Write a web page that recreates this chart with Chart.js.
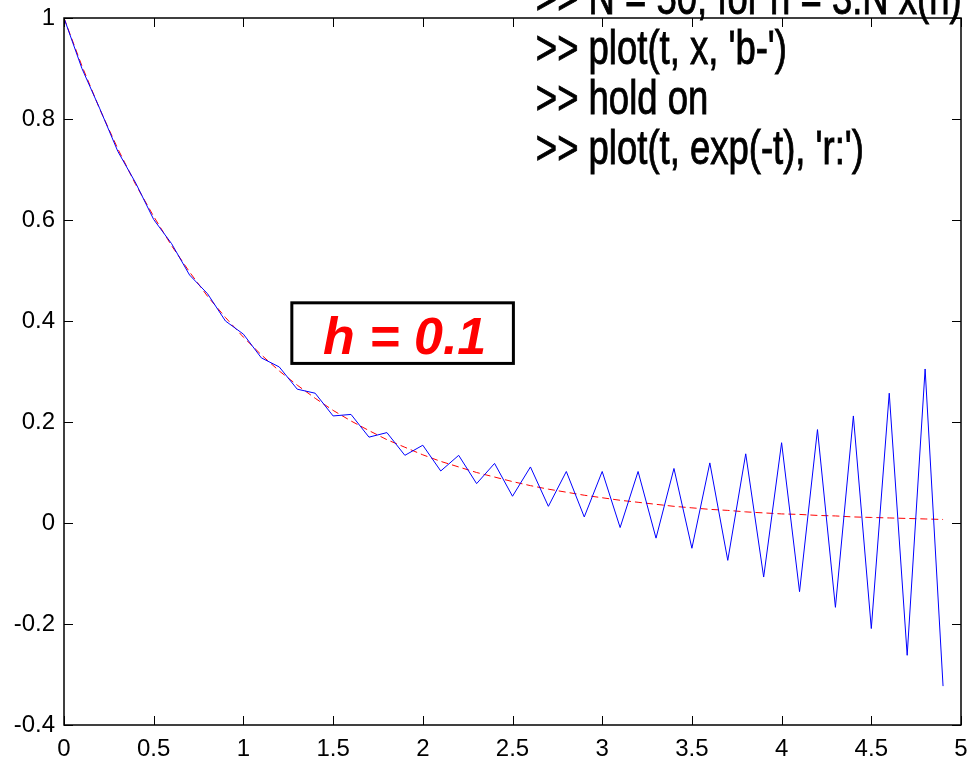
<!DOCTYPE html>
<html>
<head>
<meta charset="utf-8">
<script src="https://cdn.jsdelivr.net/npm/chart.js@4.4.0/dist/chart.umd.min.js"></script>
<style>
  html, body { margin: 0; padding: 0; background: #fff; }
  #wrap { width: 969px; height: 758px; }
</style>
</head>
<body>
<div id="wrap"><canvas id="plot" width="969" height="758"></canvas></div>
<script>
// time steps t = 0 : 0.1 : 4.9
const tValues = [0, 0.1, 0.2, 0.3, 0.4, 0.5, 0.6, 0.7, 0.8, 0.9,
  1.0, 1.1, 1.2, 1.3, 1.4, 1.5, 1.6, 1.7, 1.8, 1.9,
  2.0, 2.1, 2.2, 2.3, 2.4, 2.5, 2.6, 2.7, 2.8, 2.9,
  3.0, 3.1, 3.2, 3.3, 3.4, 3.5, 3.6, 3.7, 3.8, 3.9,
  4.0, 4.1, 4.2, 4.3, 4.4, 4.5, 4.6, 4.7, 4.8, 4.9];

// numerical solution x(n)
const xValues = [1.0, 0.90, 0.82, 0.736, 0.673, 0.601, 0.553, 0.491, 0.454, 0.400,
  0.374, 0.327, 0.309, 0.265, 0.257, 0.212, 0.215, 0.170, 0.179, 0.134,
  0.154, 0.103, 0.134, 0.078, 0.118, 0.053, 0.111, 0.033, 0.102, 0.012,
  0.102, -0.009, 0.102, -0.030, 0.108, -0.050, 0.119, -0.074, 0.137, -0.107,
  0.159, -0.136, 0.185, -0.167, 0.212, -0.209, 0.257, -0.262, 0.305, -0.323];

// exact solution exp(-t)
const expValues = [1.0, 0.905, 0.819, 0.741, 0.670, 0.607, 0.549, 0.497, 0.449, 0.407,
  0.368, 0.333, 0.301, 0.273, 0.247, 0.223, 0.202, 0.183, 0.165, 0.150,
  0.135, 0.122, 0.111, 0.100, 0.091, 0.082, 0.074, 0.067, 0.061, 0.055,
  0.050, 0.045, 0.041, 0.037, 0.033, 0.030, 0.027, 0.025, 0.022, 0.020,
  0.018, 0.017, 0.015, 0.014, 0.012, 0.011, 0.010, 0.009, 0.008, 0.007];

const xTicks = [0, 0.5, 1, 1.5, 2, 2.5, 3, 3.5, 4, 4.5, 5];
const xTickLabels = ['0', '0.5', '1', '1.5', '2', '2.5', '3', '3.5', '4', '4.5', '5'];
const yTicks = [-0.4, -0.2, 0, 0.2, 0.4, 0.6, 0.8, 1];
const yTickLabels = ['-0.4', '-0.2', '0', '0.2', '0.4', '0.6', '0.8', '1'];

const commandLines = [
  '>> N = 50; for n = 3:N x(n)',
  ">> plot(t, x, 'b-')",
  '>> hold on',
  ">> plot(t, exp(-t), 'r:')"
];
const stepLabel = 'h = 0.1';

// MATLAB style box with inward ticks + the text annotations
const matlabFrame = {
  id: 'matlabFrame',
  afterDraw(chart) {
    const ctx = chart.ctx;
    const a = chart.chartArea;
    const sx = chart.scales.x, sy = chart.scales.y;
    const tick = 9;

    ctx.save();
    ctx.strokeStyle = '#000';
    ctx.lineWidth = 1.5;
    ctx.strokeRect(a.left, a.top, a.right - a.left, a.bottom - a.top);
    ctx.lineWidth = 1;
    ctx.beginPath();
    xTicks.forEach(v => {
      const px = Math.round(sx.getPixelForValue(v)) + 0.5;
      ctx.moveTo(px, a.bottom); ctx.lineTo(px, a.bottom - tick);
      ctx.moveTo(px, a.top); ctx.lineTo(px, a.top + tick);
    });
    yTicks.forEach(v => {
      const py = Math.round(sy.getPixelForValue(v)) + 0.5;
      ctx.moveTo(a.left, py); ctx.lineTo(a.left + tick, py);
      ctx.moveTo(a.right, py); ctx.lineTo(a.right - tick, py);
    });
    ctx.stroke();

    // command lines, narrow font
    ctx.fillStyle = '#000';
    ctx.strokeStyle = '#000';
    ctx.lineWidth = 0.9;
    ctx.font = '48px "Liberation Sans", Arial, sans-serif';
    ctx.textBaseline = 'alphabetic';
    const cx = sx.getPixelForValue(2.63);
    const baseY = [1.008, 0.909, 0.810, 0.711];
    commandLines.forEach((line, i) => {
      ctx.save();
      ctx.translate(cx, sy.getPixelForValue(baseY[i]));
      ctx.scale(0.76, 1);
      ctx.fillText(line, 0, 0);
      ctx.strokeText(line, 0, 0);
      ctx.restore();
    });

    // h = 0.1 box
    const bx0 = sx.getPixelForValue(1.27), bx1 = sx.getPixelForValue(2.505);
    const by0 = sy.getPixelForValue(0.436), by1 = sy.getPixelForValue(0.316);
    ctx.fillStyle = '#fff';
    ctx.fillRect(bx0, by0, bx1 - bx0, by1 - by0);
    ctx.lineWidth = 3;
    ctx.strokeStyle = '#000';
    ctx.strokeRect(bx0, by0, bx1 - bx0, by1 - by0);
    ctx.fillStyle = '#ff0000';
    ctx.font = 'italic bold 52px "Liberation Sans", Arial, sans-serif';
    ctx.textAlign = 'center';
    ctx.fillText(stepLabel, (bx0 + bx1) / 2 + 2, sy.getPixelForValue(0.335));
    ctx.restore();
  }
};

const tickFont = { family: '"Liberation Sans", Arial, sans-serif', size: 24 };

new Chart(document.getElementById('plot').getContext('2d'), {
  type: 'line',
  data: {
    datasets: [
      {
        label: 'x',
        data: tValues.map((t, i) => ({ x: t, y: xValues[i] })),
        borderColor: '#0000ff',
        borderWidth: 1,
        pointRadius: 0,
        tension: 0,
        fill: false
      },
      {
        label: 'exp(-t)',
        data: tValues.map((t, i) => ({ x: t, y: expValues[i] })),
        borderColor: '#ff0000',
        borderWidth: 1,
        borderDash: [7, 4],
        pointRadius: 0,
        tension: 0,
        fill: false
      }
    ]
  },
  options: {
    responsive: false,
    animation: false,
    events: [],
    layout: { padding: { top: 18, right: 8, left: 0, bottom: 0 } },
    plugins: {
      legend: { display: false },
      tooltip: { enabled: false }
    },
    scales: {
      x: {
        type: 'linear',
        min: 0,
        max: 5,
        grid: { display: false, drawTicks: false },
        border: { display: false },
        afterBuildTicks: scale => { scale.ticks = xTicks.map(v => ({ value: v })); },
        afterFit: scale => {
          scale.height = 33;
          scale.paddingLeft = 0; scale.paddingRight = 0;
          scale.paddingTop = 0; scale.paddingBottom = 0;
        },
        ticks: {
          color: '#000',
          font: tickFont,
          padding: 10,
          maxRotation: 0,
          autoSkip: false,
          callback: (v, i) => xTickLabels[i]
        }
      },
      y: {
        type: 'linear',
        min: -0.4,
        max: 1,
        grid: { display: false, drawTicks: false },
        border: { display: false },
        afterBuildTicks: scale => { scale.ticks = yTicks.map(v => ({ value: v })); },
        afterFit: scale => {
          scale.width = 64;
          scale.paddingLeft = 0; scale.paddingRight = 0;
          scale.paddingTop = 0; scale.paddingBottom = 0;
        },
        ticks: {
          color: '#000',
          font: tickFont,
          padding: 9,
          autoSkip: false,
          callback: (v, i) => yTickLabels[i]
        }
      }
    }
  },
  plugins: [matlabFrame]
});
</script>
</body>
</html>
